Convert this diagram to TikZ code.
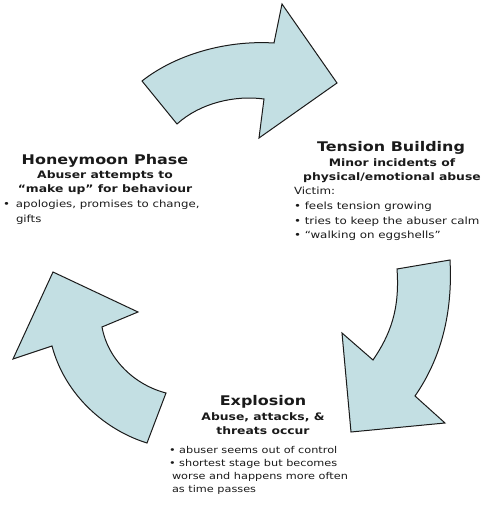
\documentclass[tikz,border=0pt]{standalone}
\usepackage{fontspec}
\setmainfont{DejaVu Sans}[FakeStretch=1.2]
\usetikzlibrary{positioning}
\definecolor{arrowfill}{HTML}{C3DFE3}
\definecolor{ink}{HTML}{1A1A1A}

\begin{document}
\begin{tikzpicture}[x=1pt, y=1pt, node distance=0pt,
    every node/.style={inner sep=0pt, outer sep=0pt, text=ink},
    cyclearrow/.style={draw=ink, fill=arrowfill, line width=1pt, line join=miter},
    phasetitle/.style={font=\fontsize{13.3}{15}\selectfont\bfseries},
    phasesub/.style={font=\fontsize{10.3}{14}\selectfont\bfseries, align=center},
    phaselist/.style={font=\fontsize{10}{14.5}\selectfont, align=left}]
    \useasboundingbox (0,0) rectangle (483,507);

    % the three arrows of the cycle
    \draw[cyclearrow] (142,426) .. controls (175,452) and (225,467) .. (274,464) -- (282,503) -- (337,424)
      -- (259,369) -- (264,408) .. controls (235,412) and (200,404) .. (177,383) -- cycle;
    \draw[cyclearrow] (397,238) -- (450,247) .. controls (453,192) and (440,147) .. (415,111) -- (445,84)
      -- (351,75) -- (342,174) -- (373,147) .. controls (390,172) and (400,197) .. (397,238) -- cycle;
    \draw[cyclearrow] (53,235) -- (138,195) -- (102,180) .. controls (108,147) and (135,122) .. (166,114)
      -- (147,64) .. controls (105,77) and (65,112) .. (52,161) -- (13,148) -- cycle;

    % honeymoon (base = last line)
    \node[phasetitle, anchor=base] (honeyTitle) at (105,342) {Honeymoon Phase};
    \node[phasesub, anchor=base] (honeySub) at (105,314) {Abuser attempts to\\``make up'' for behaviour};
    \node[phaselist, font=\fontsize{9.8}{15}\selectfont, anchor=base west] (honeyList) at (3,284)
      {•\hspace{6pt}apologies, promises to change,\\\hspace{13pt}gifts};

    % tension
    \node[phasetitle, anchor=base] (tensionTitle) at (391,355) {Tension Building};
    \node[phasesub, anchor=base] (tensionSub) at (392,326) {Minor incidents of\\physical/emotional abuse};
    \node[phaselist, font=\fontsize{9.9}{14.7}\selectfont, anchor=base west] (tensionList) at (294,268)
      {Victim:\\• feels tension growing\\• tries to keep the abuser calm\\• ``walking on eggshells''};

    % explosion
    \node[phasetitle, anchor=base] (explTitle) at (263,101) {Explosion};
    \node[phasesub, anchor=base] (explSub) at (263,72) {Abuse, attacks, \&\\threats occur};
    \node[phaselist, font=\fontsize{9.4}{13.3}\selectfont, anchor=base west] (explList) at (169,14)
      {• abuser seems out of control\\• shortest stage but becomes\\\hspace{3pt}worse and happens more often\\\hspace{3pt}as time passes};
\end{tikzpicture}
\end{document}
